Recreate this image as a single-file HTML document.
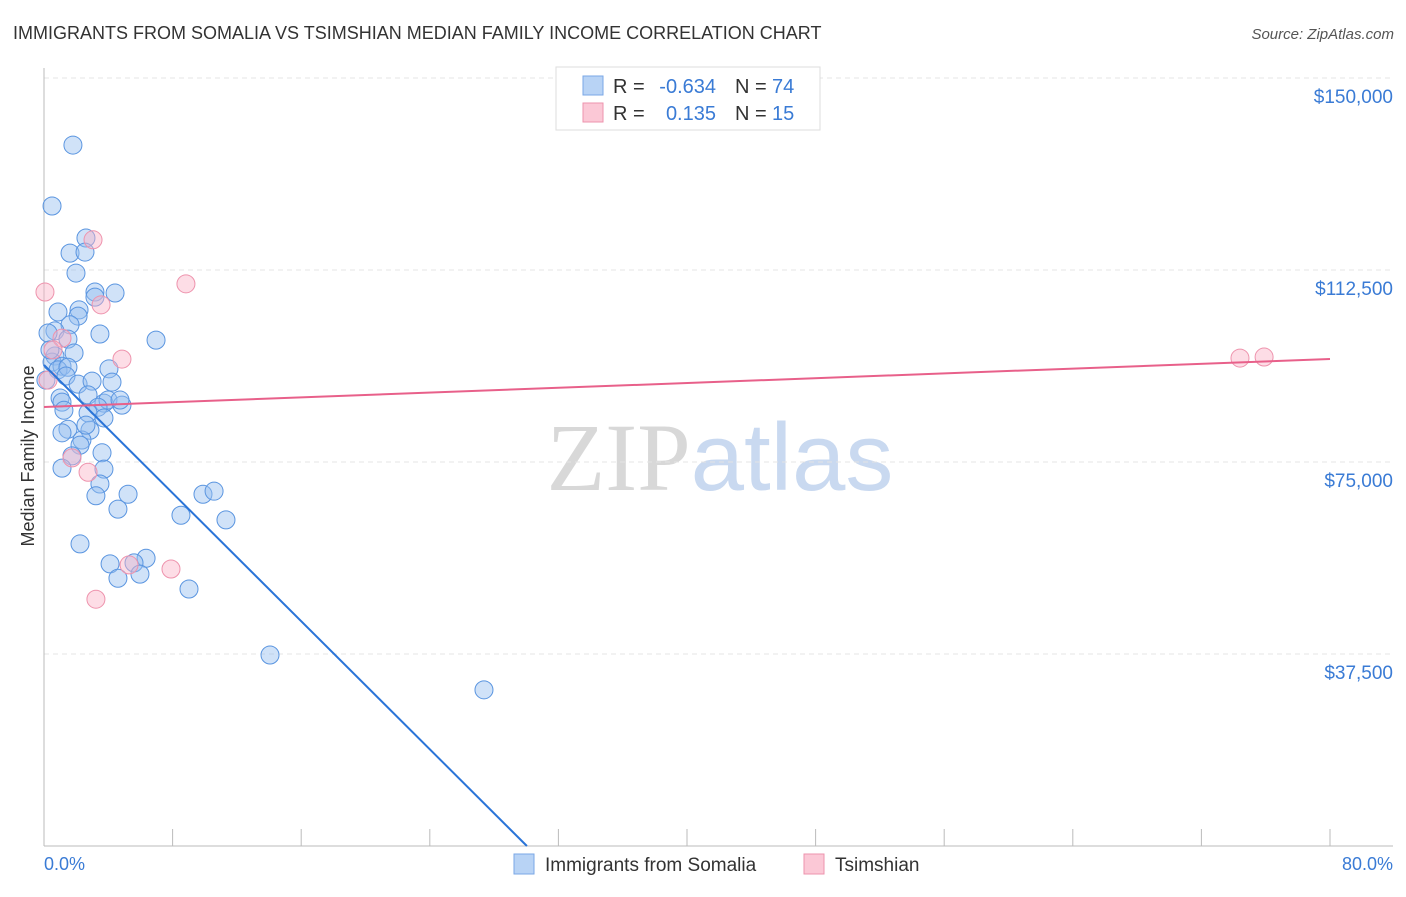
<!DOCTYPE html>
<html><head><meta charset="utf-8"><style>
body{margin:0;background:#fff;font-family:"Liberation Sans",sans-serif;}
svg text{font-family:"Liberation Sans",sans-serif;}
</style></head><body>
<svg id="chart" width="1406" height="892" xmlns="http://www.w3.org/2000/svg">
<text x="13" y="39" font-size="18" fill="#333">IMMIGRANTS FROM SOMALIA VS TSIMSHIAN MEDIAN FAMILY INCOME CORRELATION CHART</text>
<text x="1394" y="39" font-size="15" fill="#555" font-style="italic" text-anchor="end">Source: ZipAtlas.com</text>
<text x="720" y="490" font-size="96" text-anchor="middle"><tspan fill="#d8d8d8" font-family="Liberation Serif">ZIP</tspan><tspan fill="#c9d9f0">atlas</tspan></text>
<g id="grid"></g><g id="axes"></g><g id="marks"></g>
<text transform="translate(34,456) rotate(-90)" font-size="18" fill="#333" text-anchor="middle">Median Family Income</text>
<text x="44" y="870" font-size="18" fill="#3a7bd5">0.0%</text>
<text x="1393" y="870" font-size="18" fill="#3a7bd5" text-anchor="end">80.0%</text>
<g>
<rect x="556" y="67" width="264" height="63" fill="#fff" stroke="#ddd"/>
<rect x="583" y="76" width="20" height="19" fill="#b8d3f5" stroke="#7aa7e6"/>
<rect x="583" y="103" width="20" height="19" fill="#fbc8d6" stroke="#ee93ad"/>
<text x="613" y="93" font-size="20" fill="#333">R = </text><text x="716" y="93" font-size="20" fill="#3a7bd5" text-anchor="end">-0.634</text>
<text x="735" y="93" font-size="20" fill="#333">N = </text><text x="772" y="93" font-size="20" fill="#3a7bd5">74</text>
<text x="613" y="120" font-size="20" fill="#333">R = </text><text x="716" y="120" font-size="20" fill="#3a7bd5" text-anchor="end">0.135</text>
<text x="735" y="120" font-size="20" fill="#333">N = </text><text x="772" y="120" font-size="20" fill="#3a7bd5">15</text>
</g>
<g><rect x="514" y="854" width="20" height="20" fill="#b8d3f5" stroke="#7aa7e6"/><text x="545" y="871" font-size="19" fill="#333">Immigrants from Somalia</text></g>
<g><rect x="804" y="854" width="20" height="20" fill="#fbc8d6" stroke="#ee93ad"/><text x="835" y="871" font-size="19" fill="#333">Tsimshian</text></g>
</svg>
<script>
const yTicks=[37500,75000,112500,150000];
const yTickLabels=["$37,500","$75,000","$112,500","$150,000"];
const blueX=[1.80,0.50,2.61,1.62,2.55,1.99,3.17,4.42,3.17,0.87,2.18,2.12,1.62,0.68,3.48,1.49,6.97,0.25,1.87,0.68,0.50,1.12,0.87,1.49,1.37,4.04,2.12,2.99,4.23,2.74,1.00,1.12,3.73,3.98,3.36,4.85,1.24,2.74,3.73,2.86,1.49,1.12,2.36,2.24,3.61,1.74,3.73,1.12,3.48,3.23,5.23,9.89,10.58,4.60,8.52,11.32,2.24,6.35,4.11,5.60,4.60,5.97,9.02,14.06,27.37,0.12,0.37,2.61,4.73];
const blueY=[136900,125000,118750,115800,116000,111900,108200,108000,107200,104300,104700,103500,101800,100600,100000,99000,98800,100200,96300,95700,94500,93700,93000,93500,91800,93200,90200,90800,90600,88100,87500,86700,86500,87100,85700,86100,85100,84600,83600,81200,81400,80700,79300,78300,76800,76200,73600,73800,70700,68400,68700,68700,69300,65800,64600,63700,59000,56200,55100,55300,52300,53100,50200,37300,30500,91000,96900,82200,87100];
const pinkX=[0.06,3.05,8.83,3.55,4.85,1.12,0.56,1.74,2.74,5.29,7.90,3.23,74.40,75.90,0.25];
const pinkY=[108200,118400,109800,105700,95100,99200,96900,75800,73000,54900,54100,48200,95300,95500,91000];
const blueTrend=[93945,-0.634];
const pinkTrend=[85742,95117];
const NS="http://www.w3.org/2000/svg";
const sx=v=>44+v/80*1286;
const sy=v=>846-v/37500*192;
function mk(tag,attrs,parent){const e=document.createElementNS(NS,tag);for(const k in attrs)e.setAttribute(k,attrs[k]);document.getElementById(parent).appendChild(e);return e;}
yTicks.forEach((t,i)=>{
 const g=mk('line',{x1:44,x2:1393,y1:sy(t),y2:sy(t),stroke:'#e4e4e4','stroke-dasharray':'5,4'},'grid');
 
 
 const tx=mk('text',{x:1393,y:sy(t)+25,'font-size':19,fill:'#3a7bd5','text-anchor':'end'},'axes');
 tx.textContent=yTickLabels[i];
 
 
});
const ya=mk('line',{x1:44,x2:44,y1:68,y2:846,stroke:'#bbb'},'axes');


const xa=mk('line',{x1:44,x2:1393,y1:846,y2:846,stroke:'#bbb'},'axes');


for(let i=0;i<=10;i++){const t=mk('line',{x1:sx(i*8),x2:sx(i*8),y1:829,y2:846,stroke:'#bbb'},'axes');
 
 }
blueX.forEach((x,i)=>{const c=mk('circle',{cx:sx(x),cy:sy(blueY[i]),r:9,fill:'rgba(150,190,240,0.45)',stroke:'#5a95e0','stroke-width':1},'marks');
 
 });
pinkX.forEach((x,i)=>{const c=mk('circle',{cx:sx(x),cy:sy(pinkY[i]),r:9,fill:'rgba(250,180,200,0.45)',stroke:'#ee93ad','stroke-width':1},'marks');
 
 });
const bx0=blueTrend[0]/((blueTrend[0])/30.04);
const bl=mk('line',{x1:sx(0),y1:sy(blueTrend[0]),x2:sx(30.04),y2:sy(0),stroke:'#2a74d8','stroke-width':2},'marks');


const pl=mk('line',{x1:sx(0),y1:sy(pinkTrend[0]),x2:sx(80),y2:sy(pinkTrend[1]),stroke:'#e8608a','stroke-width':2},'marks');


</script>
</body></html>
